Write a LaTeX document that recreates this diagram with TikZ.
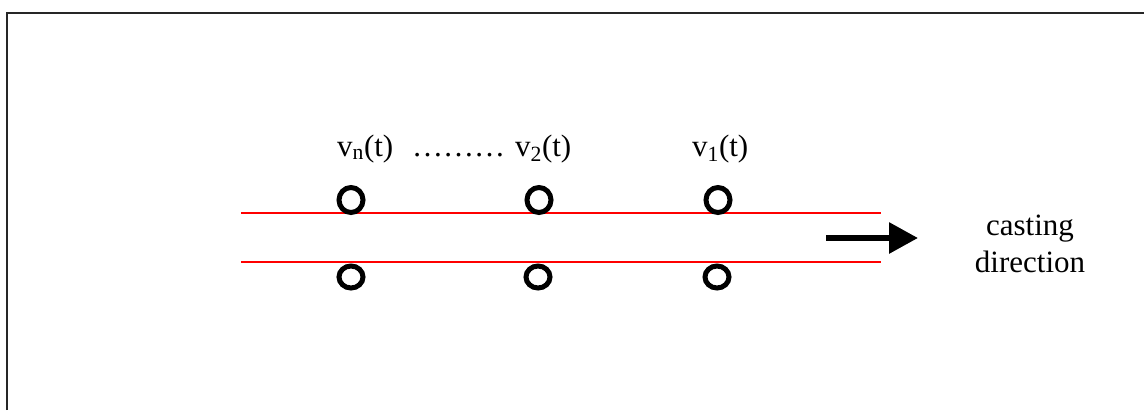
\documentclass[tikz,border=0pt]{standalone}
\usepackage{fontspec}
\setmainfont{Liberation Serif}
\usetikzlibrary{arrows.meta,shapes.geometric}
\begin{document}
\begin{tikzpicture}[x=1pt,y=-1pt,
  hole/.style={draw=black,line width=5pt,ellipse,inner sep=0pt},
  tophole/.style={hole,minimum width=24pt,minimum height=25pt},
  bothole/.style={hole,minimum width=24pt,minimum height=22pt},
  rail/.style={draw=red,line width=2pt},
  frame/.style={draw=black!85,line width=2pt},
  lbl/.style={inner sep=0pt,font=\fontsize{31}{37}\selectfont},
  dirarrow/.style={line width=6pt,-{Triangle[length=29pt,width=30pt]}}]
\useasboundingbox (0,0) rectangle (1144,410);
% frame
\coordinate (fa) at (7,410);
\coordinate (fb) at (7,13);
\coordinate (fc) at (1144,13);
\draw[frame] (fa) -- (fb) -- (fc);
% rails
\coordinate (r1a) at (241,213);
\coordinate (r1b) at (881,213);
\coordinate (r2a) at (241,262);
\coordinate (r2b) at (881,262);
\draw[rail] (r1a) -- (r1b);
\draw[rail] (r2a) -- (r2b);
% holes
\node[tophole] (tn) at (351,200) {};
\node[tophole] (t2) at (539,200) {};
\node[tophole] (t1) at (718,200) {};
\node[bothole] (bn) at (351,277) {};
\node[bothole] (b2) at (538,277) {};
\node[bothole] (b1) at (717,277) {};
% labels
\node[lbl,anchor=base west] (ln) at (337,156) {v\textsubscript{n}(t)};
\node[lbl,anchor=base west] (ld) at (412,156) {………};
\node[lbl,anchor=base west] (l2) at (515,156) {v\textsubscript{2}(t)};
\node[lbl,anchor=base west] (l1) at (692,156) {v\textsubscript{1}(t)};
% arrow
\coordinate (as) at (826,238);
\coordinate (ae) at (918,238);
\draw[dirarrow] (as) -- (ae);
\node[lbl,align=center,anchor=base] (cd) at (1030,272) {casting\\direction};
\end{tikzpicture}
\end{document}
